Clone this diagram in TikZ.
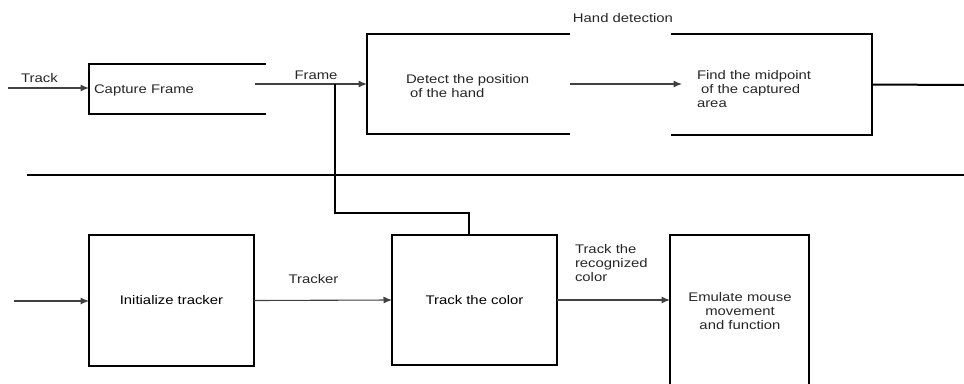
\documentclass[tikz,border=0pt]{standalone}
\usepackage{fontspec}
\setmainfont{Liberation Sans}[FakeStretch=1.19]
\usetikzlibrary{arrows.meta,calc}
\begin{document}
\begin{tikzpicture}[x=1pt,y=-1pt,
  every node/.style={inner sep=0pt,outer sep=0pt,font=\fontsize{12.5}{14.2}\selectfont,text=black!85},
  boxline/.style={line width=2pt,black},
  fullbox/.style={draw,line width=2pt,black},
  conn/.style={line width=1.1pt,black!75,-{Latex[length=8.5pt,width=7pt]}},
  thick2/.style={line width=2pt,black},
  lbl/.style={align=left,anchor=west}]
\clip (0,0) rectangle (964,383);
% open boxes (placeholders)
\node[minimum width=177pt,minimum height=50pt] (cap) at (177.5,89) {};
\node[minimum width=203pt,minimum height=100pt] (det) at (468.5,84) {};
\node[minimum width=201pt,minimum height=101pt] (fnd) at (771.5,84.5) {};
\draw[boxline] (cap.north east) -- (cap.north west) -- (cap.south west) -- (cap.south east);
\draw[boxline] (det.north east) -- (det.north west) -- (det.south west) -- (det.south east);
\draw[boxline] (fnd.north west) -- (fnd.north east) -- (fnd.south east) -- (fnd.south west);
% full boxes
\node[fullbox,minimum width=165pt,minimum height=131pt] (init) at (171.5,300.5) {Initialize tracker};
\node[fullbox,minimum width=165pt,minimum height=130pt] (col) at (474.5,300) {Track the color};
\node[fullbox,minimum width=139pt,minimum height=170pt] (emu) at (739.5,320) {};
\node[align=center] (emut) at (740,311) {Emulate mouse\\movement\\and function};
% texts
\node[lbl] (capt) at (94,90) {Capture Frame};
\node[lbl] (dett) at (406,86) {Detect the position\\\hspace{4pt}of the hand};
\node[lbl] (fndt) at (697,89) {Find the midpoint\\\hspace{4pt}of the captured\\area};
\node (hd) at (623,18) {Hand detection};
\node (trk) at (39.5,78) {Track};
\node (frm) at (316,75) {Frame};
\node (trkr) at (313.5,279) {Tracker};
\node[lbl] (trc) at (575,263) {Track the\\recognized\\color};
% coordinates
\coordinate (tin) at (8,88);
\coordinate (fs) at (255,84);
\coordinate (ds) at (570,84);
\coordinate (de) at (682,84);
\coordinate (out) at (964,85);
\coordinate (br) at (335,84);
\coordinate (bk) at (335,213);
\coordinate (cn) at (469,235);
\coordinate (dl) at (27,175);
\coordinate (dr) at (964,175);
\coordinate (iin) at (14,301);
% connectors
\draw[conn] (tin) -- (tin -| cap.west);
\draw[conn] (fs) -- (det.west);
\draw[conn] (ds) -- (de);
\draw[thick2] (fnd.east) -- (out);
\draw[thick2] (br) -- (bk) -| (cn);
\draw[thick2] (dl) -- (dr);
\draw[conn] (iin) -- (iin -| init.west);
\draw[conn] (init.east) -- (col.west);
\draw[conn] (col.east) -- (emu.west |- col.east);
\end{tikzpicture}
\end{document}
